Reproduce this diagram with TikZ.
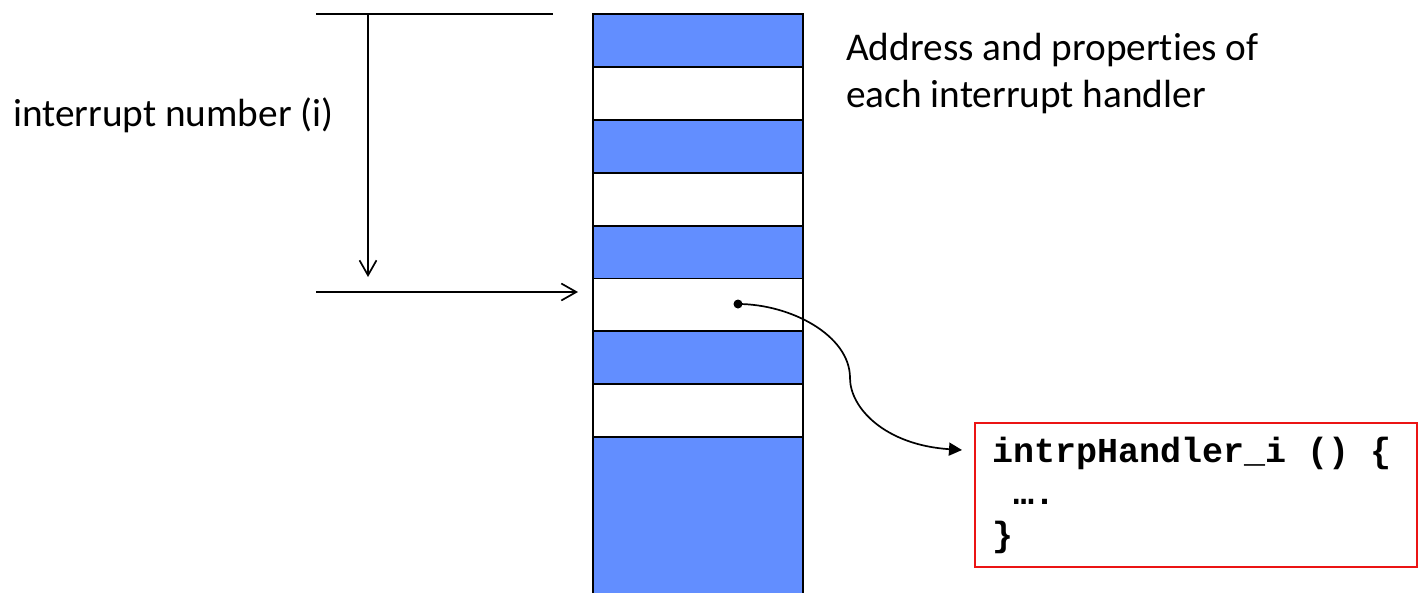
\documentclass[tikz,border=0pt]{standalone}
\usepackage{fontspec}
\setmainfont{Carlito}[Ligatures=NoCommon]
\newfontfamily\codefont{Liberation Mono}
\usetikzlibrary{arrows.meta}
\definecolor{cellblue}{RGB}{98,142,255}
\definecolor{boxred}{RGB}{235,20,20}
\begin{document}
\begin{tikzpicture}[x=1pt,y=-1pt,
  cellbase/.style={draw=black, line width=1.7pt, minimum width=210pt, minimum height=53pt, inner sep=0pt, outer sep=0pt},
  bluecell/.style={cellbase, fill=cellblue},
  whitecell/.style={cellbase, fill=white},
  lbl/.style={font=\fontsize{39.3}{47}\selectfont, inner sep=0pt, anchor=base west},
  code/.style={font=\fontsize{35}{42}\selectfont\codefont\bfseries, inner sep=0pt, anchor=base west},
  thinline/.style={line width=1.7pt},
  openarrow/.style={thinline, -{Straight Barb[length=15pt,width=17pt,line width=1.7pt]}},
  ptrarrow/.style={line width=1.7pt, -{Triangle[length=13pt,width=13pt]}},
  codebox/.style={draw=boxred, line width=1.4pt, fill=white, inner sep=0pt, outer sep=0pt}
]
\clip (0,0) rectangle (1418,592);
\fill[white] (0,0) rectangle (1418,592);

% table cells
\node[bluecell]  (r0) at (698,40.5) {};
\node[whitecell] (r1) at (698,93.5) {};
\node[bluecell]  (r2) at (698,146.5) {};
\node[whitecell] (r3) at (698,199.5) {};
\node[bluecell]  (r4) at (698,252.5) {};
\node[whitecell] (r5) at (698,305) {};
\node[bluecell]  (r6) at (698,357.5) {};
\node[whitecell] (r7) at (698,410.5) {};
\node[bluecell, minimum height=170pt] (r8) at (698,522) {};

% index lines
\coordinate (topL) at (316,14);
\coordinate (topR) at (553,14);
\coordinate (vtop) at (368,14);
\coordinate (vtip) at (368,277);
\coordinate (hL) at (316,292);
\coordinate (hR) at (578,292);
\draw[thinline] (topL) -- (topR);
\draw[openarrow] (vtop) -- (vtip);
\draw[openarrow] (hL) -- (hR);

% labels
\node[lbl] (idx) at (13,126) {interrupt number (i)};
\node[lbl] (addr1) at (846,60) {Address and properties of};
\node[lbl] (addr2) at (846,107) {each interrupt handler};

% handler box
\node[codebox, minimum width=442pt, minimum height=144pt, anchor=north west] (hbox) at (975,423) {};
\node[code] (c1) at (992,462) {intrpHandler\_i () \{};
\node[code] (c2) at (992,504) {\ ….};
\node[code] (c3) at (992,546) {\}};

% pointer
\node[circle, fill=black, inner sep=0pt, minimum size=9pt] (dot) at (738,304) {};
\coordinate (mid) at (850,378);
\coordinate (ptip) at (962,450);
\draw[ptrarrow] (dot.center) .. controls (790,304) and (850,335) .. (mid)
  .. controls (850,408) and (885,445) .. (ptip);
\end{tikzpicture}
\end{document}
